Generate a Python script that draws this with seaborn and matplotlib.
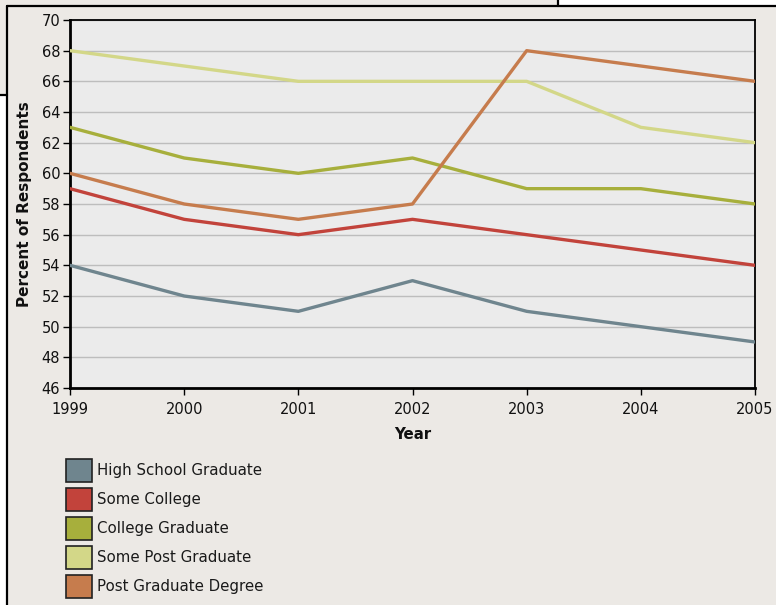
import matplotlib
matplotlib.use("Agg")
import matplotlib.pyplot as plt
import seaborn as sns
import pandas as pd
from matplotlib.patches import Patch, Rectangle
from matplotlib.lines import Line2D

years = [1999, 2000, 2001, 2002, 2003, 2004, 2005]
series_names = ["High School Graduate", "Some College", "College Graduate",
                "Some Post Graduate", "Post Graduate Degree"]
high_school = [54, 52, 51, 53, 51, 50, 49]
some_college = [59, 57, 56, 57, 56, 55, 54]
college_grad = [63, 61, 60, 61, 59, 59, 58]
some_post_grad = [68, 67, 66, 66, 66, 63, 62]
post_grad_degree = [60, 58, 57, 58, 68, 67, 66]
colors = ["#6F858E", "#C2433B", "#A7AF3C", "#D3D788", "#C67C4D"]

values = [high_school, some_college, college_grad, some_post_grad, post_grad_degree]
df = pd.DataFrame([
    {"Year": y, "Series": n, "Percent": v}
    for n, vals in zip(series_names, values) for y, v in zip(years, vals)
])

sns.set_theme(style="white")
plt.rcParams["font.family"] = ["DejaVu Sans"]

bg = "#ECE9E5"
fig = plt.figure(figsize=(7.76, 6.05), dpi=100, facecolor=bg)
ax = fig.add_axes([70/776, 1-388/605, (755-70)/776, (388-20)/605])
ax.set_facecolor("#EBEBEB")

sns.lineplot(data=df, x="Year", y="Percent", hue="Series", palette=colors,
             hue_order=series_names, linewidth=2.4, ax=ax, legend=False,
             zorder=3)

ax.set_xlim(1999, 2005)
ax.set_ylim(46, 70)
ax.set_xticks(years)
ax.set_yticks(range(46, 71, 2))
ax.yaxis.grid(True, color="#BDBDBD", linewidth=1.0, zorder=0)
ax.xaxis.grid(False)
for s in ax.spines.values():
    s.set_color("black")
    s.set_linewidth(1.3)
ax.spines["left"].set_linewidth(2)
ax.spines["bottom"].set_linewidth(2)
ax.tick_params(axis="both", direction="out", length=5, width=1, color="black",
               labelsize=10.5, labelcolor="#111111", bottom=True, left=True, pad=2)
ax.tick_params(axis="x", pad=5)
ax.set_xlabel("Year", fontsize=10.8, fontweight="bold", labelpad=7, color="#111111")
ax.set_ylabel("Percent of Respondents", fontsize=11, fontweight="bold", labelpad=7,
              color="#111111")

handles = [Patch(facecolor=c, edgecolor="#222222", linewidth=1.2) for c in colors]
fig.legend(handles, series_names, loc="upper left",
           bbox_to_anchor=(60/776, 1-453/605), frameon=False, fontsize=10.8,
           handlelength=1.75, handleheight=1.95, labelspacing=0.42,
           handletextpad=0.3, borderaxespad=0, labelcolor="#1A1A1A")

# screenshot frame artifacts
fig.add_artist(Rectangle((558/776, 1-6/605), 1, 6/605, transform=fig.transFigure,
                         facecolor="white", edgecolor="none"))
fig.add_artist(Rectangle((0, 0), 7/776, 1-95/605, transform=fig.transFigure,
                         facecolor="white", edgecolor="none"))
fig.add_artist(Line2D([7/776, 1], [1-6/605, 1-6/605], transform=fig.transFigure,
                      color="black", linewidth=1.6))
fig.add_artist(Line2D([7/776, 7/776], [0, 1-6/605], transform=fig.transFigure,
                      color="black", linewidth=1.6))
fig.add_artist(Line2D([0, 7/776], [1-95/605, 1-95/605], transform=fig.transFigure,
                      color="black", linewidth=1.6))
fig.add_artist(Line2D([558/776, 558/776], [1, 1-6/605], transform=fig.transFigure,
                      color="black", linewidth=1.6))

fig.savefig("out.png", dpi=100, facecolor=bg)
